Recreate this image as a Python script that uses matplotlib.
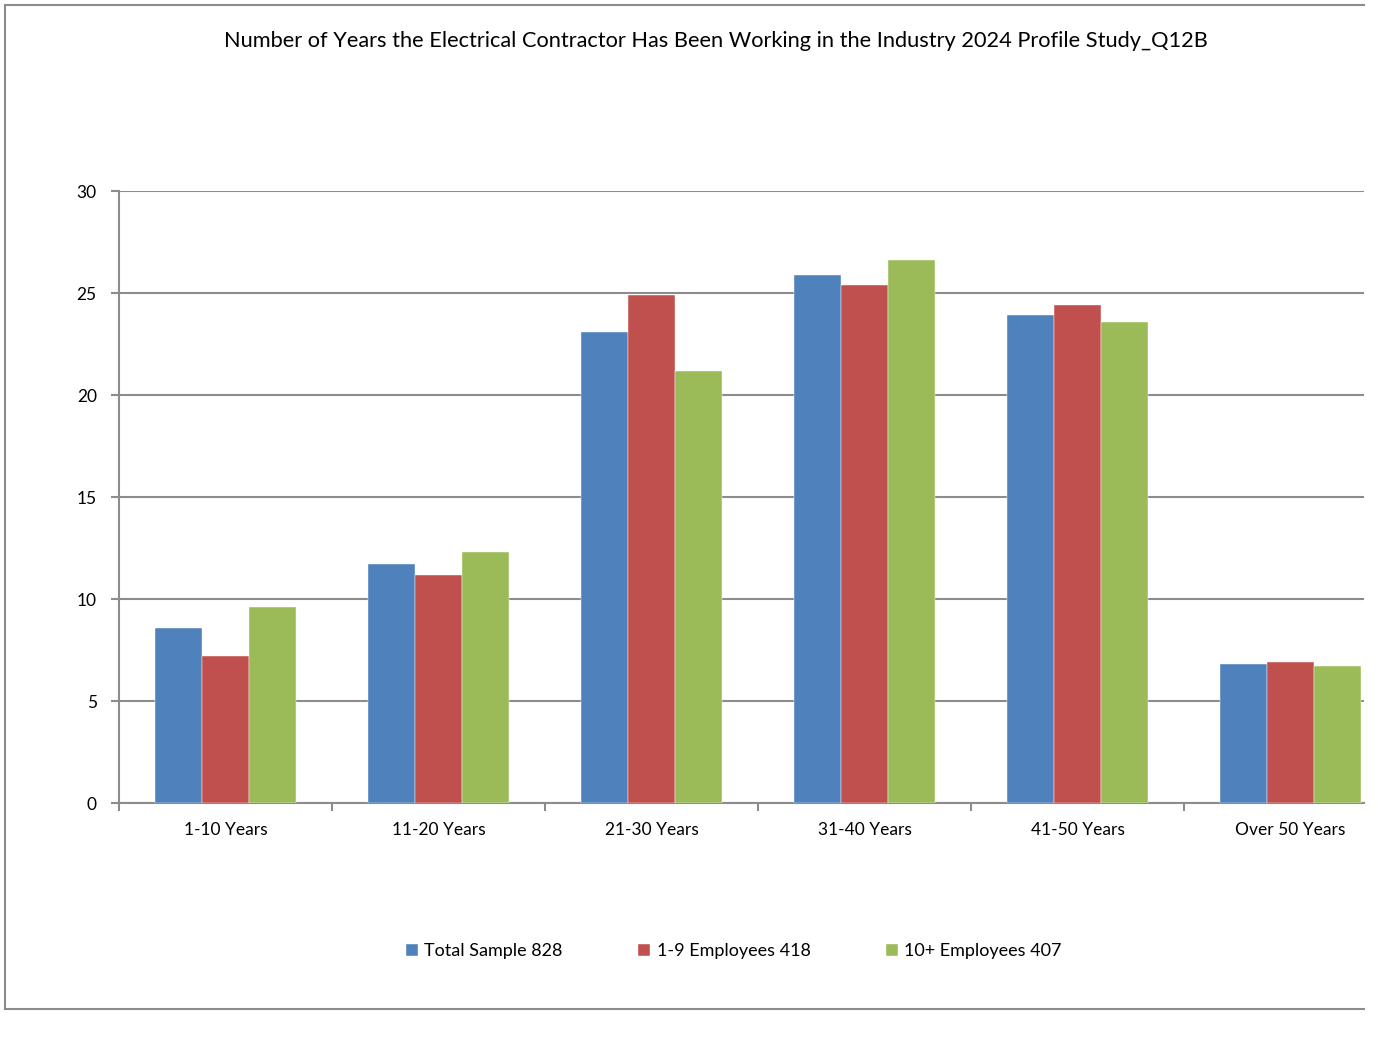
import matplotlib
matplotlib.use("Agg")
import matplotlib.pyplot as plt
from matplotlib.lines import Line2D
import numpy as np

plt.rcParams['font.family'] = ['Lato', 'DejaVu Sans']

title = "Number of Years the Electrical Contractor Has Been Working in the Industry 2024 Profile Study_Q12B"
categories = ["1-10 Years", "11-20 Years", "21-30 Years", "31-40 Years", "41-50 Years", "Over 50 Years"]
series_names = ["Total Sample 828", "1-9 Employees 418", "10+ Employees 407"]
total_sample = [8.6, 11.7, 23.1, 25.9, 23.9, 6.8]
small_firms = [7.2, 11.2, 24.9, 25.4, 24.4, 6.9]
large_firms = [9.6, 12.3, 21.2, 26.6, 23.6, 6.7]
y_ticks = [0, 5, 10, 15, 20, 25, 30]

colors = ["#4F81BD", "#C0504D", "#9BBB59"]
W, H = 1378, 1042
fig = plt.figure(figsize=(W / 100, H / 100), dpi=100)

ax_left, ax_right, ax_top, ax_bot = 119, 1364, 191, 803
ax = fig.add_axes([ax_left / W, 1 - ax_bot / H, (ax_right - ax_left) / W, (ax_bot - ax_top) / H])

x = np.arange(len(categories))
bw = 47 / 213
for i, (vals, name) in enumerate(zip([total_sample, small_firms, large_firms], series_names)):
    ax.bar(x + (i - 1) * bw, vals, width=bw, color=colors[i], label=name, zorder=3,
           edgecolor='white', linewidth=0.3)

ax.set_ylim(0, 30)
ax.set_xlim(-0.5, -0.5 + (ax_right - ax_left) / 213)
ax.set_yticks(y_ticks)
ax.set_yticklabels([str(t) for t in y_ticks], fontsize=12.5)
ax.yaxis.grid(True, color='#8c8c8c', linewidth=1.5, zorder=0)
ax.set_axisbelow(True)
ax.set_xticks(x)
ax.set_xticklabels(categories, fontsize=12.5)
ax.tick_params(axis='x', which='major', length=0, pad=14)
ax.set_xticks(np.arange(len(categories)) - 0.5, minor=True)
ax.tick_params(axis='x', which='minor', length=6, color='#8c8c8c', width=1.5)
ax.tick_params(axis='y', length=6, color='#8c8c8c', width=1.5, pad=10)
for s in ['top', 'right']:
    ax.spines[s].set_visible(False)
for s in ['left', 'bottom']:
    ax.spines[s].set_color('#8c8c8c')
    ax.spines[s].set_linewidth(1.5)

fig.text(716 / W, 1 - 41 / H, title, ha='center', va='center', fontsize=15.7)

leg = fig.legend(loc='center', bbox_to_anchor=(734 / W, 1 - 951 / H), ncol=3, frameon=False,
                 fontsize=13, handlelength=0.65, handleheight=0.65, handletextpad=0.35,
                 columnspacing=4.2)

# chart border (top, left, bottom)
bc = '#8c8c8c'
fig.add_artist(Line2D([5 / W, 1364 / W], [1 - 5 / H, 1 - 5 / H], color=bc, lw=1.5))
fig.add_artist(Line2D([5 / W, 5 / W], [1 - 5 / H, 1 - 1009 / H], color=bc, lw=1.5))
fig.add_artist(Line2D([5 / W, 1364 / W], [1 - 1009 / H, 1 - 1009 / H], color=bc, lw=1.5))

fig.savefig("out.png", dpi=100)
